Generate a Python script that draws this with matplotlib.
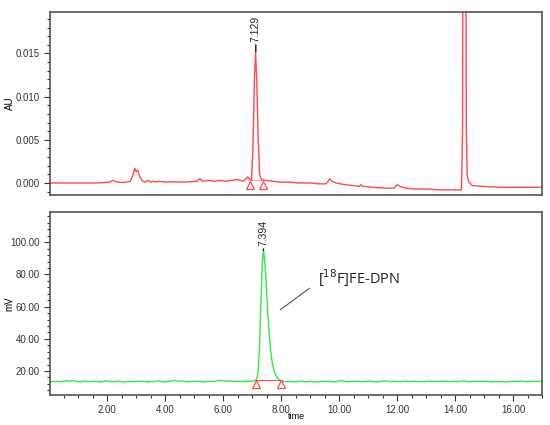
import numpy as np
from matplotlib import pyplot as plt
from matplotlib.ticker import MultipleLocator, FormatStrFormatter

# UV trace (top panel), time in min, absorbance in AU
uv_time = [0.0, 1.0, 1.6, 1.9, 2.1, 2.2, 2.35, 2.6, 2.8, 2.88, 2.95, 3.0, 3.05, 3.12,
           3.2, 3.3, 3.4, 3.5, 3.6, 3.7, 3.8, 4.0, 4.3, 4.6, 4.9, 5.1, 5.2, 5.3, 5.5,
           5.7, 5.9, 6.1, 6.3, 6.5, 6.7, 6.85, 6.92, 6.98, 7.03, 7.08, 7.12, 7.16,
           7.21, 7.26, 7.32, 7.45, 7.7, 8.0, 8.3, 8.6, 9.0, 9.3, 9.55, 9.62, 9.68,
           9.75, 9.9, 10.2, 10.5, 10.7, 10.75, 10.82, 11.2, 11.6, 11.9, 12.0, 12.1,
           12.3, 12.6, 13.0, 13.5, 14.22, 14.26, 14.29, 14.36, 14.39, 14.42, 14.48,
           14.6, 15.0, 15.5, 16.0, 17.0]
uv_au = [0.0, 0.0, 0.0, 0.00005, 0.0001, 0.0003, 0.0001, 0.00005, 0.0002, 0.0008,
         0.0017, 0.0013, 0.0015, 0.0008, 0.0003, 0.0001, 0.0003, 0.0001, 0.0002,
         0.0001, 0.0002, 0.0001, 0.00015, 0.0001, 0.00015, 0.0002, 0.0005, 0.0002,
         0.0003, 0.0002, 0.0003, 0.0002, 0.0003, 0.0004, 0.0002, 0.0007, 0.0004,
         0.0003, 0.004, 0.012, 0.0152, 0.012, 0.005, 0.001, 0.0004, 0.0003, 0.0002,
         0.0001, 0.0001, 0.0, 0.0, -0.0001, -0.0001, 0.0002, 0.0005, 0.0002, 0.0,
         -0.0002, -0.0003, -0.0004, -0.0002, -0.0004, -0.0005, -0.0006, -0.0006,
         -0.0002, -0.0004, -0.0006, -0.0007, -0.0007, -0.0008, -0.0008, 0.006, 0.05,
         0.05, 0.006, 0.0008, 0.0001, -0.0003, -0.0004, -0.0005, -0.0005, -0.0005]
uv_peak = (7.129, 0.0152, "7.129")
uv_marks_t = [6.93, 7.39]
uv_marks_y = [-0.0002, -0.0002]

# radio trace (bottom panel), mV
rad_base1 = [13.2, 13.5, 13.4, 13.6, 13.3, 13.8, 13.9, 13.5, 14.2, 13.6, 13.4, 13.2,
             13.8, 13.6, 13.3, 13.5, 13.7, 13.4, 13.2, 13.6, 13.9, 13.5, 13.3, 13.6,
             13.8, 13.4, 13.1, 13.5, 13.7, 13.3, 13.6, 13.4, 13.8, 13.5, 13.2, 13.6,
             13.3, 13.7, 13.9, 13.4, 13.2, 13.5, 13.8, 14.1, 13.7, 13.5, 13.9, 13.6,
             13.3, 13.5, 13.8, 13.4, 13.6, 13.2, 13.5, 13.7, 13.4, 13.6, 13.9, 14.2,
             14.0, 13.8, 13.6, 13.9, 13.5, 13.7, 13.4, 13.6, 13.8, 13.5, 13.6]
rad_peak_t = [7.1, 7.15, 7.2, 7.25, 7.3, 7.35, 7.39, 7.43, 7.48, 7.53, 7.58, 7.63,
              7.68, 7.73, 7.78, 7.83, 7.88, 7.94, 8.0]
rad_peak_v = [13.6, 14.5, 18.0, 32.0, 60.0, 86.0, 95.0, 90.0, 76.0, 60.0, 46.0, 35.0,
              27.0, 22.0, 19.0, 17.0, 15.5, 14.6, 13.9]
rad_base2 = [13.5, 13.3, 13.7, 13.4, 13.2, 13.6, 13.8, 13.5, 13.3, 13.6, 13.4, 13.1,
             13.3, 13.6, 13.4, 13.7, 13.5, 13.2, 13.4, 13.8, 14.1, 13.6, 13.3, 13.5,
             13.7, 13.4, 13.6, 13.3, 13.5, 13.8, 13.6, 13.4, 13.2, 13.5, 13.7, 13.9,
             13.6, 13.4, 13.7, 13.5, 13.3, 13.6, 13.8, 13.4, 13.5, 13.7, 13.4, 13.6,
             13.3, 13.5, 13.8, 13.6, 13.4, 13.7, 13.5, 13.8, 13.6, 13.3, 13.5, 13.7,
             13.4, 13.6, 13.9, 13.5, 13.3, 13.6, 13.4, 13.7, 13.5, 13.6, 13.8, 13.4,
             13.2, 13.5, 13.3, 13.6, 13.4, 13.2, 13.5, 13.7, 13.4, 13.6, 13.8, 13.5,
             13.3, 13.6, 13.8, 13.5, 13.6, 13.7]
rad_peak = (7.394, 95.0, "7.394")
rad_marks_t = [7.14, 8.0]
rad_marks_y = [12.1, 12.1]
rad_baseline_y = [14.2, 14.2]

x_ticks = [2, 4, 6, 8, 10, 12, 14, 16]

t1 = np.round(np.arange(len(rad_base1)) * 0.1, 2)
t2 = np.round(8.1 + np.arange(len(rad_base2)) * 0.1, 2)
rad_time = np.concatenate([t1, rad_peak_t[1:], t2])
rad_mv = np.concatenate([rad_base1, rad_peak_v[1:], rad_base2])

plt.rcParams["font.family"] = ["Liberation Sans", "DejaVu Sans"]
fig = plt.figure(figsize=(5.5, 4.25), dpi=100)
ax1 = fig.add_axes([0.0909, 0.541, 0.8946, 0.4308])
ax2 = fig.add_axes([0.0909, 0.0706, 0.8946, 0.4306])

red = "#ff4a4a"
green = "#2fe84c"

for ax in (ax1, ax2):
    ax.set_xlim(0.03, 17.0)
    for s in ax.spines.values():
        s.set_color("#555555")
        s.set_linewidth(1.2)
    ax.tick_params(axis="both", which="major", direction="out", length=4,
                   width=0.8, labelsize=7, colors="#333333")
    ax.tick_params(axis="both", which="minor", direction="out", length=2.5,
                   width=0.8, colors="#333333")

# top panel
ax1.plot(uv_time, uv_au, color=red, linewidth=1.0)
ax1.plot(uv_marks_t, uv_marks_y, linestyle="none", marker="^", markersize=6,
         markerfacecolor="none", markeredgecolor=red, markeredgewidth=0.9)
ax1.plot(uv_marks_t, [0.0003, 0.0003], color=red, linewidth=0.6, alpha=0.6)
ax1.set_ylim(-0.0014, 0.0198)
ax1.yaxis.set_major_locator(MultipleLocator(0.005))
ax1.yaxis.set_minor_locator(MultipleLocator(0.001))
ax1.yaxis.set_major_formatter(FormatStrFormatter("%.3f"))
ax1.set_xticks([])
ax1.set_ylabel("AU", fontsize=7)
ax1.yaxis.set_label_coords(-0.072, 0.5)
ax1.annotate(uv_peak[2], xy=(uv_peak[0], uv_peak[1]), xytext=(0, 7),
             textcoords="offset points", rotation=90, ha="center", va="bottom",
             fontsize=7.5, color="#222222",
             arrowprops=dict(arrowstyle="-", color="black", lw=0.9,
                             shrinkA=0, shrinkB=0))

# bottom panel
ax2.plot(rad_time, rad_mv, color=green, linewidth=1.0)
ax2.plot(rad_marks_t, rad_baseline_y, color=red, linewidth=0.8)
ax2.plot(rad_marks_t, rad_marks_y, linestyle="none", marker="^", markersize=6,
         markerfacecolor="none", markeredgecolor=red, markeredgewidth=0.9)
ax2.set_ylim(5.1, 118.8)
ax2.yaxis.set_major_locator(MultipleLocator(20))
ax2.yaxis.set_minor_locator(MultipleLocator(4))
ax2.yaxis.set_major_formatter(FormatStrFormatter("%.2f"))
ax2.set_xticks(x_ticks)
ax2.xaxis.set_major_formatter(FormatStrFormatter("%.2f"))
ax2.xaxis.set_minor_locator(MultipleLocator(0.5))
ax2.set_ylabel("mV", fontsize=7)
ax2.yaxis.set_label_coords(-0.072, 0.5)
ax2.set_xlabel("time", fontsize=6.5)
ax2.xaxis.set_label_coords(0.5, -0.092)
ax2.annotate(rad_peak[2], xy=(rad_peak[0], rad_peak[1]), xytext=(0, 3),
             textcoords="offset points", rotation=90, ha="center", va="bottom",
             fontsize=7.5, color="#222222",
             arrowprops=dict(arrowstyle="-", color="black", lw=0.9,
                             shrinkA=0, shrinkB=0))
ax2.annotate(r"[$^{18}$F]FE-DPN", xy=(7.97, 58), xytext=(9.27, 78),
             fontsize=10.5, ha="left", va="center", color="#222222",
             family=["Open Sans", "DejaVu Sans"],
             arrowprops=dict(arrowstyle="-", color="#555555", lw=0.8,
                             shrinkA=5, shrinkB=0, relpos=(0, 0.3)))

fig.savefig("out.png", dpi=100)
